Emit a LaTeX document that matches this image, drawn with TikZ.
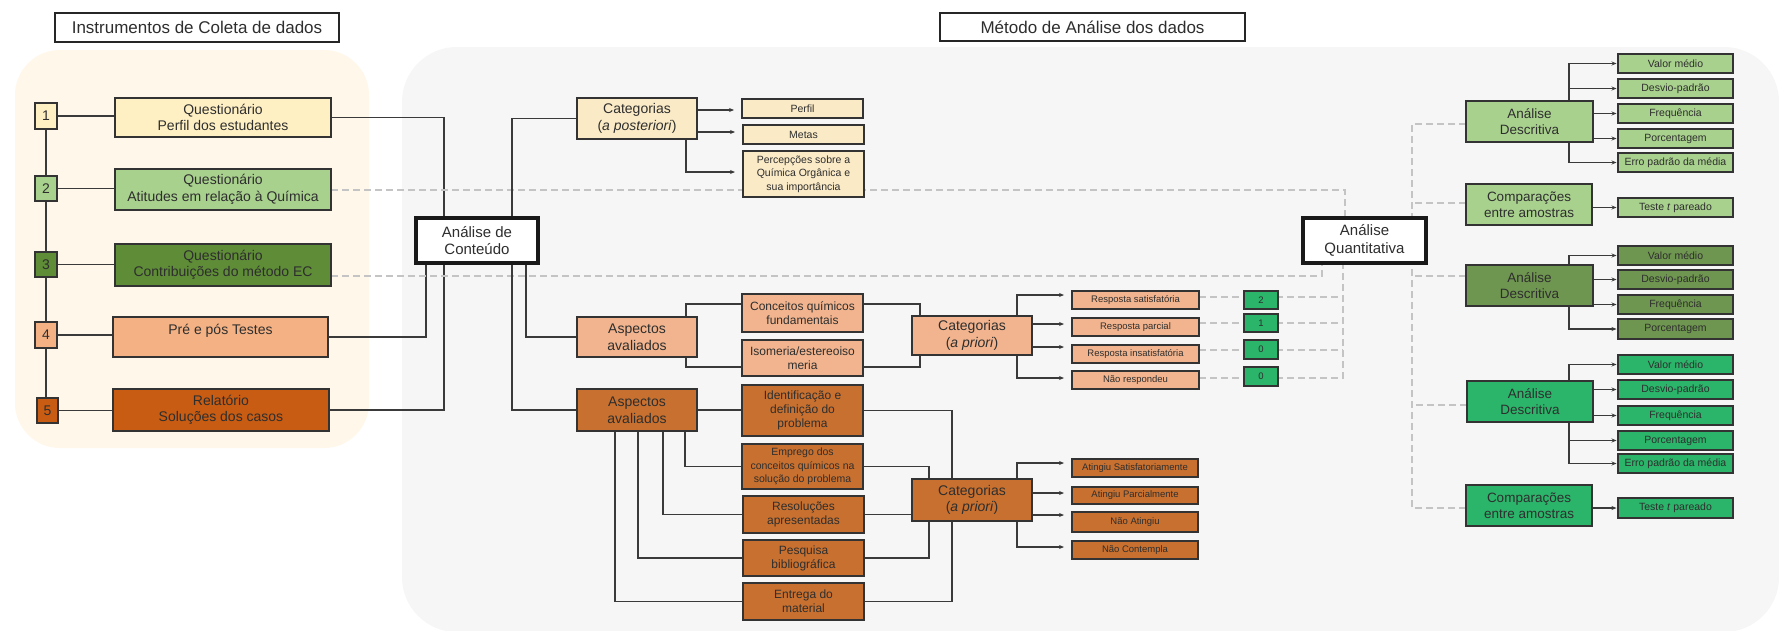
\documentclass[tikz,border=0pt]{standalone}
\usepackage{fontspec}
\setmainfont{Liberation Sans}
\usetikzlibrary{arrows.meta}
\definecolor{tx}{HTML}{2E2E2E}
\definecolor{bd}{HTML}{333333}
\definecolor{ln}{HTML}{3A3A3A}
\definecolor{dg}{HTML}{C4C4C4}
\definecolor{cream}{HTML}{FFF8EA}
\definecolor{grayb}{HTML}{F6F6F6}
\definecolor{cQa}{HTML}{FFF0C4}
\definecolor{cQb}{HTML}{A9D18E}
\definecolor{cQc}{HTML}{5E8C37}
\definecolor{cQd}{HTML}{F4B183}
\definecolor{cQe}{HTML}{C85C12}
\definecolor{cPost}{HTML}{FAEAC6}
\definecolor{cAl}{HTML}{F1B48E}
\definecolor{cAd}{HTML}{C8702F}
\definecolor{cGa}{HTML}{A9D18E}
\definecolor{cGb}{HTML}{6F9650}
\definecolor{cGc}{HTML}{2BB56A}
\pgfdeclarelayer{bg}
\pgfdeclarelayer{lines}
\pgfsetlayers{bg,lines,main}
\begin{document}
\begin{tikzpicture}[x=1pt,y=-1pt,
  box/.style={draw=bd, line width=1.1pt, inner sep=0pt, outer sep=0pt, align=center, text=tx},
  sz/.style 2 args={minimum width=#1pt, minimum height=#2pt},
  fA/.style={font=\fontsize{17}{20}\selectfont},
  fB/.style={font=\fontsize{14}{16.5}\selectfont},
  fC/.style={font=\fontsize{15}{17.5}\selectfont},
  fD/.style={font=\fontsize{12}{14.2}\selectfont},
  fE/.style={font=\fontsize{10.5}{13.3}\selectfont},
  fF/.style={font=\fontsize{9.5}{11}\selectfont},
  fG/.style={font=\fontsize{13.5}{16.5}\selectfont},
  big/.style={box, draw=black!90, line width=3.5pt, fill=white, fC},
  ttl/.style={box, draw=black!85, line width=1.2pt, fill=white, fA},
  conn/.style={draw=ln, line width=1.1pt},
  arr/.style={conn, -{Stealth[length=5pt,width=4pt]}},
  arrm/.style={arr, shorten >=8pt},
  arrr/.style={arr, shorten >=1.5pt},
  dsh/.style={draw=dg, line width=2pt, dash pattern=on 7pt off 4pt}
]
\useasboundingbox (0,0) rectangle (1779,630);
\begin{pgfonlayer}{bg}
\fill[white] (0,0) rectangle (1779,630);
\fill[cream, rounded corners=45pt] (15,50) rectangle (369,448);
\fill[grayb, rounded corners=55pt] (402,47) rectangle (1779,632);
\end{pgfonlayer}

% titles
\node[ttl, sz={284}{29}] (t1) at (197,27.5) {Instrumentos de Coleta de dados};
\node[ttl, sz={305}{28}] (t2) at (1092.5,27) {Método de Análise dos dados};

% numbers
\node[box, sz={22}{26}, fB, fill=cQa] (n1) at (46,116) {1};
\node[box, sz={22}{25}, fB, fill=cQb] (n2) at (46,188.5) {2};
\node[box, sz={22}{25}, fB, fill=cQc] (n3) at (46,264.5) {3};
\node[box, sz={22}{26}, fB, fill=cQd] (n4) at (46,335) {4};
\node[box, sz={21}{25}, fB, fill=cQe] (n5) at (47.5,410.5) {5};

% instruments
\node[box, sz={216}{39}, fB, fill=cQa] (q1) at (223,117.5) {Questionário\\Perfil dos estudantes};
\node[box, sz={216}{41}, fB, fill=cQb] (q2) at (223,189.5) {Questionário\\Atitudes em relação à Química};
\node[box, sz={216}{42}, fB, fill=cQc] (q3) at (223,265) {Questionário\\Contribuições do método EC};
\node[box, sz={215}{40}, fB, fill=cQd, text depth=16pt] (q4) at (220.5,337) {Pré e pós Testes};
\node[box, sz={216}{42}, fB, fill=cQe] (q5) at (221,410) {Relatório\\Soluções dos casos};

% main analysis boxes
\node[big, sz={122}{45}] (adc) at (477,240.5) {Análise de\\Conteúdo};
\node[big, sz={123}{45}] (aq) at (1364.5,240.5) {Análise\\Quantitativa};

% a posteriori group
\node[box, sz={120}{41}, fB, fill=cPost] (catp) at (637,118.5) {Categorias\\(\textit{a posteriori})};
\node[box, sz={121}{19}, fE, fill=cPost] (perf) at (802.5,108.5) {Perfil};
\node[box, sz={121}{19}, fE, fill=cPost] (meta) at (803.5,134.5) {Metas};
\node[box, sz={121}{46}, fE, fill=cPost] (perc) at (803.5,174) {Percepções sobre a\\Química Orgânica e\\sua importância};

% light aspects group
\node[box, sz={120}{40}, fB, fill=cAl] (asp1) at (637,337) {Aspectos\\avaliados};
\node[box, sz={121}{38}, fD, fill=cAl] (conc) at (802.5,313) {Conceitos químicos\\fundamentais};
\node[box, sz={121}{36}, fD, fill=cAl] (iso) at (802.5,358) {Isomeria/estereoiso\\meria};
\node[box, sz={120}{39}, fB, fill=cAl] (cat1) at (972,335.5) {Categorias\\(\textit{a priori})};
\node[box, sz={127}{18}, fF, fill=cAl] (rs) at (1135.5,300) {Resposta satisfatória};
\node[box, sz={127}{18}, fF, fill=cAl] (rp) at (1135.5,327) {Resposta parcial};
\node[box, sz={127}{18}, fF, fill=cAl] (ri) at (1135.5,354) {Resposta insatisfatória};
\node[box, sz={127}{18}, fF, fill=cAl] (rn) at (1135.5,380) {Não respondeu};
\node[box, sz={34}{18}, fF, fill=cGc] (g2) at (1261,300) {2};
\node[box, sz={34}{18}, fF, fill=cGc] (g1) at (1261,323) {1};
\node[box, sz={34}{19}, fF, fill=cGc] (g0a) at (1261,349.5) {0};
\node[box, sz={34}{19}, fF, fill=cGc] (g0b) at (1261,376.5) {0};

% dark aspects group
\node[box, sz={120}{42}, fB, fill=cAd] (asp2) at (637,410) {Aspectos\\avaliados};
\node[box, sz={121}{51}, fD, fill=cAd] (ident) at (802.5,410.5) {Identificação e\\definição do\\problema};
\node[box, sz={121}{45}, fE, fill=cAd] (empr) at (802.5,466.5) {Emprego dos\\conceitos químicos na\\solução do problema};
\node[box, sz={121}{37}, fD, fill=cAd] (reso) at (803.5,514.5) {Resoluções\\apresentadas};
\node[box, sz={121}{36}, fD, fill=cAd] (pesq) at (803.5,558) {Pesquisa\\bibliográfica};
\node[box, sz={121}{37}, fD, fill=cAd] (entr) at (803.5,601.5) {Entrega do\\material};
\node[box, sz={120}{42}, fB, fill=cAd] (cat2) at (972,500) {Categorias\\(\textit{a priori})};
\node[box, sz={126}{18}, fF, fill=cAd] (ata) at (1135,468) {Atingiu Satisfatoriamente};
\node[box, sz={126}{17}, fF, fill=cAd] (atp) at (1135,495.5) {Atingiu Parcialmente};
\node[box, sz={126}{20}, fF, fill=cAd] (nat) at (1135,522) {Não Atingiu};
\node[box, sz={126}{18}, fF, fill=cAd] (nco) at (1135,550) {Não Contempla};

% right side
\node[box, sz={127}{41}, fG, fill=cGa] (ad1) at (1529.5,121.5) {Análise\\Descritiva};
\node[box, sz={126}{41}, fG, fill=cGa] (comp1) at (1529,204.5) {Comparações\\entre amostras};
\node[box, sz={127}{41}, fG, fill=cGb] (ad2) at (1529.5,285.5) {Análise\\Descritiva};
\node[box, sz={126}{41}, fG, fill=cGc] (ad3) at (1530,401.5) {Análise\\Descritiva};
\node[box, sz={126}{41}, fG, fill=cGc] (comp2) at (1529,505.5) {Comparações\\entre amostras};

\node[box, sz={115}{19}, fE, fill=cGa] (vm1) at (1675.5,63.5) {Valor médio};
\node[box, sz={115}{19}, fE, fill=cGa] (dp1) at (1675.5,88.5) {Desvio-padrão};
\node[box, sz={115}{19}, fE, fill=cGa] (fr1) at (1675.5,113.5) {Frequência};
\node[box, sz={115}{19}, fE, fill=cGa] (pc1) at (1675.5,138.5) {Porcentagem};
\node[box, sz={115}{19}, fE, fill=cGa] (ep1) at (1675.5,162.5) {Erro padrão da média};
\node[box, sz={115}{19}, fE, fill=cGa] (tt1) at (1675.5,207.5) {Teste \textit{t} pareado};

\node[box, sz={115}{19}, fE, fill=cGb] (vm2) at (1675.5,255.5) {Valor médio};
\node[box, sz={115}{19}, fE, fill=cGb] (dp2) at (1675.5,279.5) {Desvio-padrão};
\node[box, sz={115}{19}, fE, fill=cGb] (fr2) at (1675.5,304.5) {Frequência};
\node[box, sz={115}{20}, fE, fill=cGb] (pc2) at (1675.5,329) {Porcentagem};

\node[box, sz={115}{19}, fE, fill=cGc] (vm3) at (1675.5,364.5) {Valor médio};
\node[box, sz={115}{19}, fE, fill=cGc] (dp3) at (1675.5,389.5) {Desvio-padrão};
\node[box, sz={115}{19}, fE, fill=cGc] (fr3) at (1675.5,415.5) {Frequência};
\node[box, sz={115}{19}, fE, fill=cGc] (pc3) at (1675.5,440.5) {Porcentagem};
\node[box, sz={115}{19}, fE, fill=cGc] (ep3) at (1675.5,463.5) {Erro padrão da média};
\node[box, sz={115}{20}, fE, fill=cGc] (tt2) at (1675.5,508) {Teste \textit{t} pareado};

\begin{pgfonlayer}{lines}
% left column
\draw[conn] (n1.south) -- (n1.south |- n5.north);
\foreach \a/\b in {n1/q1,n2/q2,n3/q3,n4/q4,n5/q5} \draw[conn] (\a.east) -- (\a.east -| \b.west);
\draw[conn] (q1.east) -| ([xshift=-33pt]adc.north);
\draw[conn] (q4.east) -| ([xshift=-51pt]adc.south);
\draw[conn] (q5.east) -| ([xshift=-33pt]adc.south);
\draw[dsh] (q2.east) -| ([xshift=-20pt]aq.north);
\draw[dsh] ([yshift=-11pt]q3.east) -| ([xshift=-42.5pt]aq.south);
% from content analysis
\draw[conn] ([xshift=35pt]adc.north) |- (catp.west);
\draw[conn] ([xshift=49pt]adc.south) |- (asp1.west);
\draw[conn] ([xshift=35pt]adc.south) |- (asp2.west);
% a posteriori
\draw[arrm] ([yshift=8.5pt]catp.east) -- ([yshift=8.5pt]catp.east -| perf.west);
\draw[arrm] ([yshift=-13.5pt]catp.east) -- ([yshift=-13.5pt]catp.east -| meta.west);
\draw[arrm] ([xshift=-11pt]catp.south east) |- ([yshift=2pt]perc.west);
% light aspects
\draw[conn] ([xshift=-11pt]asp1.north east) |- ([yshift=9pt]conc.west);
\draw[conn] ([xshift=-11pt]asp1.south east) |- ([yshift=-9pt]iso.west);
\draw[conn] ([yshift=9pt]conc.east) -| ([xshift=-52pt]cat1.north);
\draw[conn] ([yshift=-9pt]iso.east) -| ([xshift=-52pt]cat1.south);
\draw[arrm] ([xshift=-15pt]cat1.north east) |- ([yshift=5pt]rs.west);
\draw[arrm] ([yshift=11.5pt]cat1.east) -- ([yshift=11.5pt]cat1.east -| rp.west);
\draw[arrm] ([yshift=-11.5pt]cat1.east) -- ([yshift=-11.5pt]cat1.east -| ri.west);
\draw[arrm] ([xshift=-15pt]cat1.south east) |- ([yshift=2pt]rn.west);
\coordinate (qb) at ([xshift=-21.5pt]aq.south);
\draw[dsh] ([yshift=2pt]rn.east) -| (qb);
\draw[dsh] ([yshift=3pt]rs.east) -- ([yshift=3pt]rs.east -| qb);
\draw[dsh] ([yshift=4pt]rp.east) -- ([yshift=4pt]rp.east -| qb);
\draw[dsh] ([yshift=4pt]ri.east) -- ([yshift=4pt]ri.east -| qb);
% dark aspects
\draw[conn] (asp2.east) -- (asp2.east -| ident.west);
\draw[conn] ([xshift=-12pt]asp2.south east) |- (empr.west);
\draw[conn] ([xshift=-34pt]asp2.south east) |- (reso.west);
\draw[conn] ([xshift=1pt]asp2.south) |- (pesq.west);
\draw[conn] ([xshift=-22pt]asp2.south) |- (entr.west);
\draw[conn] (ident.east) -| ([xshift=-20pt]cat2.north);
\draw[conn] (empr.east) -| ([xshift=-43pt]cat2.north);
\draw[conn] (reso.east) -- (reso.east -| cat2.west);
\draw[conn] (pesq.east) -| ([xshift=-43pt]cat2.south);
\draw[conn] (entr.east) -| ([xshift=-20pt]cat2.south);
\draw[arrm] ([xshift=-15pt]cat2.north east) |- ([yshift=5pt]ata.west);
\draw[arrm] ([yshift=7pt]cat2.east) -- ([yshift=7pt]cat2.east -| atp.west);
\draw[arrm] ([yshift=-15pt]cat2.east) -- ([yshift=-15pt]cat2.east -| nat.west);
\draw[arrm] ([xshift=-15pt]cat2.south east) |- ([yshift=3pt]nco.west);
% quantitative bus
\coordinate (rt) at ([xshift=-14pt]aq.north east);
\coordinate (rb) at ([xshift=-14pt]aq.south east);
\draw[dsh] ([yshift=-2.5pt]ad1.west) -| (rt);
\draw[dsh] ([yshift=-2.5pt]comp2.west) -| (rb);
\draw[dsh] ([yshift=1.5pt]comp1.west) -- ([yshift=1.5pt]comp1.west -| rt);
\draw[dsh] ([yshift=9.5pt]ad2.west) -- ([yshift=9.5pt]ad2.west -| rt);
\draw[dsh] ([yshift=-3.5pt]ad3.west) -- ([yshift=-3.5pt]ad3.west -| rt);
% right arrows
\draw[arrr] ([xshift=-24pt]ad1.north east) |- (vm1.west);
\draw[arrr] ([xshift=-24pt]ad1.north east) |- (dp1.west);
\draw[arrr] (ad1.east |- fr1.west) -- (fr1.west);
\draw[arrr] (ad1.east |- pc1.west) -- (pc1.west);
\draw[arrr] ([xshift=-24pt]ad1.south east) |- (ep1.west);
\draw[arrr] (comp1.east |- tt1.west) -- (tt1.west);
\draw[arrr] ([xshift=-24pt]ad2.north east) |- (vm2.west);
\draw[arrr] (ad2.east |- dp2.west) -- (dp2.west);
\draw[arrr] (ad2.east |- fr2.west) -- (fr2.west);
\draw[arrr] ([xshift=-24pt]ad2.south east) |- (pc2.west);
\draw[arrr] ([xshift=-24pt]ad3.north east) |- (vm3.west);
\draw[arrr] (ad3.east |- dp3.west) -- (dp3.west);
\draw[arrr] (ad3.east |- fr3.west) -- (fr3.west);
\draw[arrr] ([xshift=-24pt]ad3.south east) |- (pc3.west);
\draw[arrr] ([xshift=-24pt]ad3.south east) |- (ep3.west);
\draw[arrr] (comp2.east |- tt2.west) -- (tt2.west);
\end{pgfonlayer}
\end{tikzpicture}
\end{document}
